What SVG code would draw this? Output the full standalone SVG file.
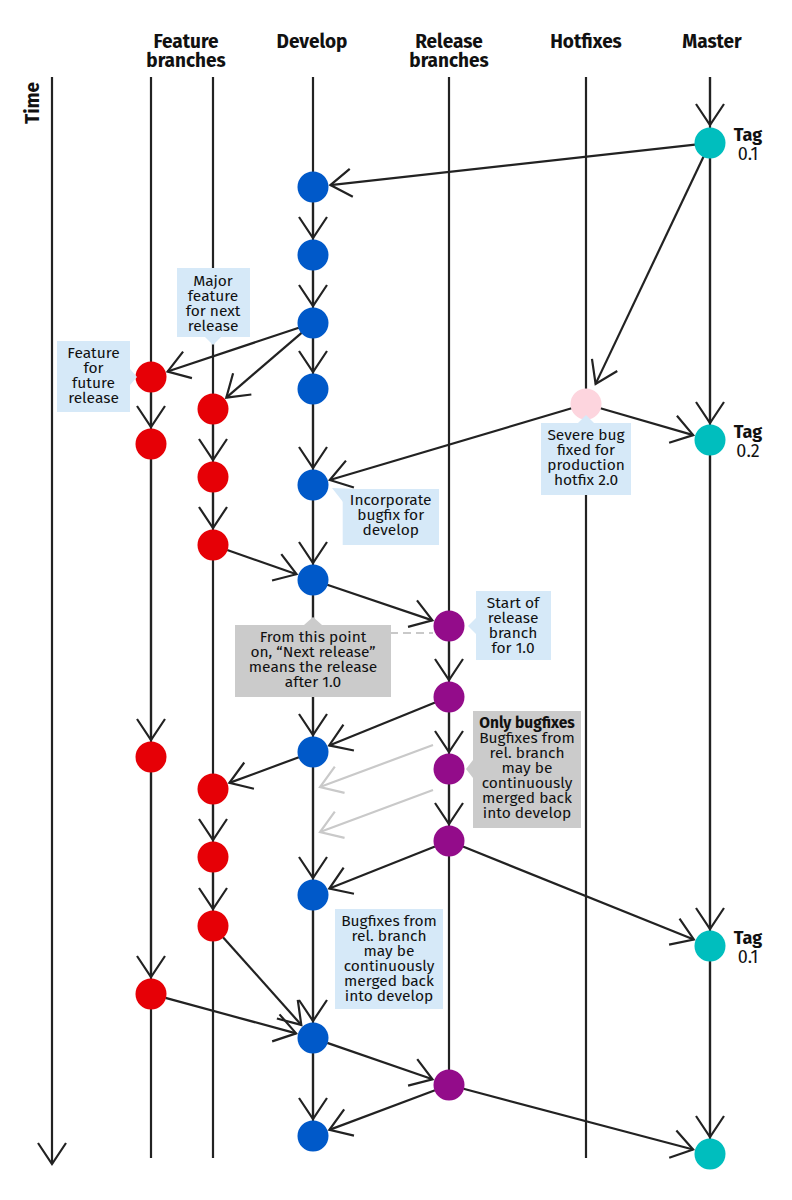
<svg xmlns="http://www.w3.org/2000/svg" width="792" height="1200" viewBox="0 0 792 1200">
<style>
  .ln { stroke:#222; stroke-width:2.2; fill:none; }
  .ar { stroke:#222; stroke-width:2.2; fill:none; marker-end:url(#arr); }
  .ag { stroke:#c9c9c9; stroke-width:2.2; fill:none; marker-end:url(#arrg); }
  .hd { font-family:"Fira Sans","Open Sans","Noto Sans",sans-serif; font-weight:700; font-size:19px; fill:#111; text-anchor:middle; }
  .tg { font-family:"Fira Sans","Open Sans","Noto Sans",sans-serif; font-size:18px; fill:#111; text-anchor:middle; }
  .tb { font-weight:700; }
  .co { font-family:"Fira Sans","Open Sans","Noto Sans",sans-serif; font-size:15.5px; fill:#111; text-anchor:middle; }
  .lb { fill:#d6e9f8; }
  .gr { fill:#cbcbcb; }
  .blue { fill:#0059c9; }
  .red { fill:#e60006; }
  .pur { fill:#930c8a; }
  .teal { fill:#00bebe; }
  .pink { fill:#fdd5de; }
</style>
<defs>
  <marker id="arr" markerUnits="userSpaceOnUse" viewBox="-24 -16 27 32" markerWidth="27" markerHeight="32" refX="0" refY="0" orient="auto" overflow="visible">
    <path d="M-21,-14 L0,0 L-21,14" fill="none" stroke="#222" stroke-width="2.2"/>
  </marker>
  <marker id="arrg" markerUnits="userSpaceOnUse" viewBox="-24 -16 27 32" markerWidth="27" markerHeight="32" refX="0" refY="0" orient="auto" overflow="visible">
    <path d="M-21,-14 L0,0 L-21,14" fill="none" stroke="#c9c9c9" stroke-width="2.2"/>
  </marker>
</defs>
<rect width="792" height="1200" fill="#fff"/>

<g id="headers">
  <text class="hd" x="186" y="48">Feature</text>
  <text class="hd" x="186" y="67">branches</text>
  <text class="hd" x="312" y="48">Develop</text>
  <text class="hd" x="449" y="48">Release</text>
  <text class="hd" x="449" y="67">branches</text>
  <text class="hd" x="586" y="48">Hotfixes</text>
  <text class="hd" x="712" y="48">Master</text>
  <text class="hd" x="0" y="0" font-size="16.5" transform="translate(39,103) rotate(-90)">Time</text>
</g>

<g id="connectors">
  <path class="ar" d="M52,77 L52,1164"/>
  <path class="ln" d="M151,77 L151,1158"/>
  <path class="ln" d="M213,77 L213,1158"/>
  <path class="ln" d="M313,77 L313,1136"/>
  <path class="ln" d="M449,77 L449,1085"/>
  <path class="ln" d="M586,77 L586,1158"/>
  <path class="ln" d="M710,77 L710,1154"/>
  <path class="ar" d="M710,77 L710,125"/>
  <path class="ar" d="M710,158 L710,423"/>
  <path class="ar" d="M710,455 L710,929"/>
  <path class="ar" d="M710,961 L710,1137"/>
  <path class="ar" d="M695,144.7 L330.4,185.1"/>
  <path class="ar" d="M703.6,156.5 L595.6,383.9"/>
  <path class="ar" d="M313,202 L313,238"/>
  <path class="ar" d="M313,270 L313,306"/>
  <path class="ar" d="M313,338 L313,372"/>
  <path class="ar" d="M313,404 L313,468"/>
  <path class="ar" d="M313,500 L313,563"/>
  <path class="ar" d="M313,595 L313,735"/>
  <path class="ar" d="M313,767 L313,878"/>
  <path class="ar" d="M313,910 L313,1021"/>
  <path class="ar" d="M313,1053 L313,1119"/>
  <path class="ar" d="M298.8,327.7 L167.6,371.5"/>
  <path class="ar" d="M301.6,332.8 L226.3,397.6"/>
  <path class="ar" d="M327.2,584.8 L432.4,620.4"/>
  <path class="ar" d="M298.9,757.2 L229.4,782.9"/>
  <path class="ar" d="M327.2,1042.9 L432.5,1079.3"/>
  <path class="ar" d="M151,392 L151,427"/>
  <path class="ar" d="M151,459 L151,740"/>
  <path class="ar" d="M151,772 L151,977"/>
  <path class="ar" d="M165.5,997.9 L296.1,1033.4"/>
  <path class="ar" d="M213,424 L213,460"/>
  <path class="ar" d="M213,492 L213,528"/>
  <path class="ar" d="M213,804 L213,840"/>
  <path class="ar" d="M213,872 L213,909"/>
  <path class="ar" d="M227.2,550 L296.5,574.2"/>
  <path class="ar" d="M223,937.2 L301.3,1024.9"/>
  <path class="ar" d="M571.6,408.3 L329.8,480"/>
  <path class="ar" d="M600.4,408.2 L693.2,435.1"/>
  <path class="ar" d="M449,641 L449,680"/>
  <path class="ar" d="M449,712 L449,752"/>
  <path class="ar" d="M449,784 L449,824"/>
  <path class="ar" d="M435.1,702.6 L329.2,745.4"/>
  <path class="ar" d="M435,846.5 L329.3,888.5"/>
  <path class="ar" d="M462.9,846.6 L693.8,939.5"/>
  <path class="ar" d="M435,1090.3 L329.4,1129.9"/>
  <path class="ar" d="M463.5,1088.8 L693.1,1149.5"/>
  <path class="ag" d="M433,745 L320,787"/>
  <path class="ag" d="M433,790 L320,832"/>
  <path d="M390,633 L433,633" stroke="#c9c9c9" stroke-width="2" stroke-dasharray="8,5" fill="none"/>
</g>

<g id="master-nodes">
  <g id="m1"><circle class="teal" cx="710" cy="143" r="15.5"/><text class="tg tb" x="748" y="141">Tag</text><text class="tg" x="748" y="160">0.1</text></g>
  <g id="m2"><circle class="teal" cx="710" cy="440" r="15.5"/><text class="tg tb" x="748" y="438">Tag</text><text class="tg" x="748" y="457">0.2</text></g>
  <g id="m3"><circle class="teal" cx="710" cy="946" r="15.5"/><text class="tg tb" x="748" y="944">Tag</text><text class="tg" x="748" y="963">0.1</text></g>
  <g id="m4"><circle class="teal" cx="710" cy="1154" r="15.5"/></g>
</g>

<g id="develop-nodes">
  <g id="d1"><circle class="blue" cx="313" cy="187" r="15.5"/></g>
  <g id="d2"><circle class="blue" cx="313" cy="255" r="15.5"/></g>
  <g id="d3"><circle class="blue" cx="313" cy="323" r="15.5"/></g>
  <g id="d4"><circle class="blue" cx="313" cy="389" r="15.5"/></g>
  <g id="d5"><circle class="blue" cx="313" cy="485" r="15.5"/></g>
  <g id="d6"><circle class="blue" cx="313" cy="580" r="15.5"/></g>
  <g id="d7"><circle class="blue" cx="313" cy="752" r="15.5"/></g>
  <g id="d8"><circle class="blue" cx="313" cy="895" r="15.5"/></g>
  <g id="d9"><circle class="blue" cx="313" cy="1038" r="15.5"/></g>
  <g id="d10"><circle class="blue" cx="313" cy="1136" r="15.5"/></g>
</g>

<g id="feature-nodes">
  <g id="f1a"><circle class="red" cx="151" cy="377" r="15.5"/></g>
  <g id="f1b"><circle class="red" cx="151" cy="444" r="15.5"/></g>
  <g id="f1c"><circle class="red" cx="151" cy="757" r="15.5"/></g>
  <g id="f1d"><circle class="red" cx="151" cy="994" r="15.5"/></g>
  <g id="f2a"><circle class="red" cx="213" cy="409" r="15.5"/></g>
  <g id="f2b"><circle class="red" cx="213" cy="477" r="15.5"/></g>
  <g id="f2c"><circle class="red" cx="213" cy="545" r="15.5"/></g>
  <g id="f2d"><circle class="red" cx="213" cy="789" r="15.5"/></g>
  <g id="f2e"><circle class="red" cx="213" cy="857" r="15.5"/></g>
  <g id="f2f"><circle class="red" cx="213" cy="926" r="15.5"/></g>
</g>

<g id="release-nodes">
  <g id="r1"><circle class="pur" cx="449" cy="626" r="15.5"/></g>
  <g id="r2"><circle class="pur" cx="449" cy="697" r="15.5"/></g>
  <g id="r3"><circle class="pur" cx="449" cy="769" r="15.5"/></g>
  <g id="r4"><circle class="pur" cx="449" cy="841" r="15.5"/></g>
  <g id="r5"><circle class="pur" cx="449" cy="1085" r="15.5"/></g>
</g>

<g id="hotfix-nodes">
  <g id="h1"><circle class="pink" cx="586" cy="404" r="15.5"/></g>
</g>

<g id="callout-major">
  <rect class="lb" x="177" y="268" width="73" height="69"/>
  <polygon class="lb" points="205,337 221,337 213,345"/>
  <text class="co"><tspan x="213" y="286">Major</tspan><tspan x="213" y="301">feature</tspan><tspan x="213" y="316">for next</tspan><tspan x="213" y="331">release</tspan></text>
</g>
<g id="callout-future">
  <rect class="lb" x="57" y="341" width="73" height="71"/>
  <polygon class="lb" points="130,369 130,385 137,377"/>
  <text class="co"><tspan x="93.5" y="358">Feature</tspan><tspan x="93.5" y="373">for</tspan><tspan x="93.5" y="388">future</tspan><tspan x="93.5" y="403">release</tspan></text>
</g>
<g id="callout-severe">
  <rect class="lb" x="541" y="423" width="90" height="72"/>
  <polygon class="lb" points="578,423 594,423 586,415"/>
  <text class="co"><tspan x="586" y="440">Severe bug</tspan><tspan x="586" y="455">fixed for</tspan><tspan x="586" y="470">production</tspan><tspan x="586" y="485">hotfix 2.0</tspan></text>
</g>
<g id="callout-incorporate">
  <rect class="lb" x="342.7" y="489" width="96.3" height="56"/>
  <polygon class="lb" points="332,488 356,489 343,502"/>
  <text class="co"><tspan x="390.7" y="505">Incorporate</tspan><tspan x="390.7" y="520">bugfix for</tspan><tspan x="390.7" y="535">develop</tspan></text>
</g>
<g id="callout-start">
  <rect class="lb" x="476" y="591" width="75" height="69"/>
  <polygon class="lb" points="476,618 476,634 468,626"/>
  <text class="co"><tspan x="513" y="608">Start of</tspan><tspan x="513" y="623">release</tspan><tspan x="513" y="638">branch</tspan><tspan x="513" y="653">for 1.0</tspan></text>
</g>
<g id="callout-nextrelease">
  <rect class="gr" x="235" y="625" width="156" height="72"/>
  <polygon class="gr" points="304,625 322,625 313,617"/>
  <text class="co"><tspan x="313" y="642">From this point</tspan><tspan x="313" y="657">on, “Next release”</tspan><tspan x="313" y="672">means the release</tspan><tspan x="313" y="687">after 1.0</tspan></text>
</g>
<g id="callout-onlybugfixes">
  <rect class="gr" x="473" y="711" width="108" height="117"/>
  <polygon class="gr" points="473,760 473,778 466,769"/>
  <text class="co"><tspan x="527" y="728" font-weight="700">Only bugfixes</tspan><tspan x="527" y="743">Bugfixes from</tspan><tspan x="527" y="758">rel. branch</tspan><tspan x="527" y="773">may be</tspan><tspan x="527" y="788">continuously</tspan><tspan x="527" y="803">merged back</tspan><tspan x="527" y="818">into develop</tspan></text>
</g>
<g id="callout-bugfixes">
  <rect class="lb" x="335" y="909" width="108" height="100"/>
  <text class="co"><tspan x="389" y="926">Bugfixes from</tspan><tspan x="389" y="941">rel. branch</tspan><tspan x="389" y="956">may be</tspan><tspan x="389" y="971">continuously</tspan><tspan x="389" y="986">merged back</tspan><tspan x="389" y="1001">into develop</tspan></text>
</g>
</svg>
